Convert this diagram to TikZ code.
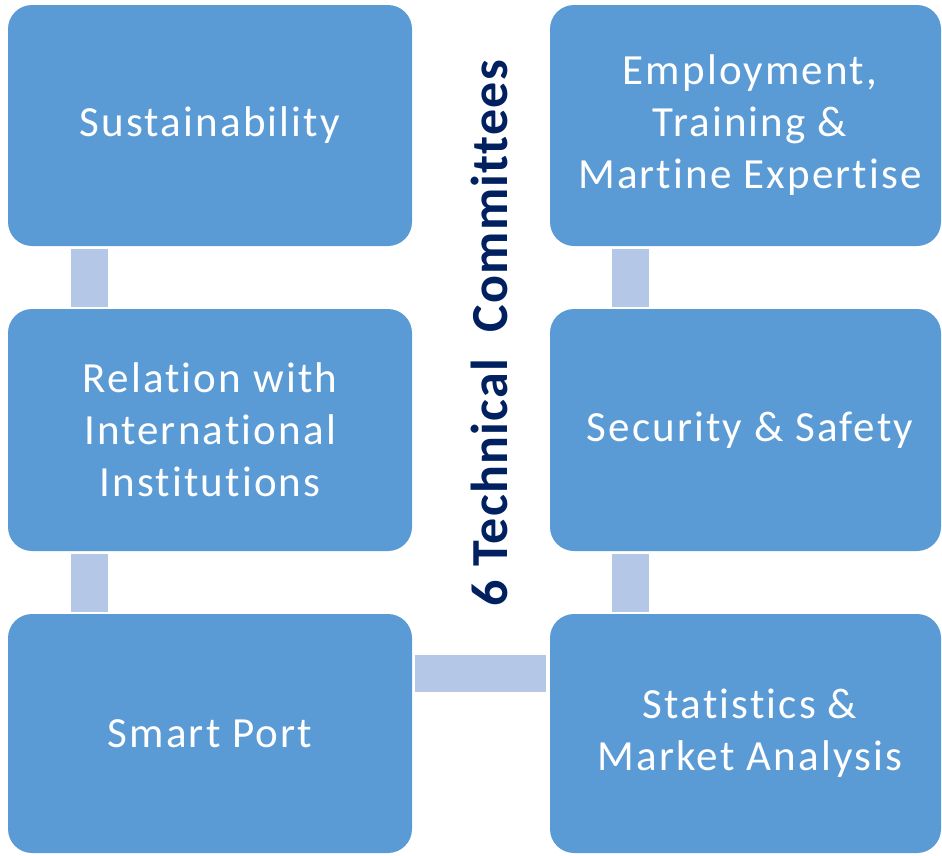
\documentclass[tikz,border=0pt]{standalone}
\usepackage{fontspec}
\setmainfont{Carlito}[LetterSpace=5,Ligatures=NoCommon]
\newfontfamily\titlefont{Carlito}[LetterSpace=2.5,Ligatures=NoCommon]
\definecolor{boxblue}{HTML}{5B9BD5}
\definecolor{linkblue}{HTML}{B4C7E7}
\definecolor{navy}{HTML}{002060}
\begin{document}
\begin{tikzpicture}[x=1pt,y=-1pt,
  lbl/.style={align=center, text=white, font=\fontsize{43}{52}\selectfont, inner sep=0pt},
  link/.style={fill=linkblue, draw=none},
  boxfill/.style={fill=boxblue, rounded corners=24pt}]
\useasboundingbox (0,0) rectangle (942,855);
% boxes
\fill[boxfill] (8,5) rectangle (412,246);
\fill[boxfill] (8,309) rectangle (412,551);
\fill[boxfill] (8,614) rectangle (412,853);
\fill[boxfill] (550,5) rectangle (941,246);
\fill[boxfill] (550,309) rectangle (941,551);
\fill[boxfill] (550,614) rectangle (941,853);
\node[lbl] (a) at (210,125.5) {Sustainability};
\node[lbl] (b) at (210,430) {Relation with\\International\\Institutions};
\node[lbl] (c) at (210,733.5) {Smart Port};
\node[lbl] (d) at (750,125.5) {Employment,\\Training \&\\Martine Expertise};
\node[lbl] (e) at (750,430) {Security \& Safety};
\node[lbl] (f) at (750,733.5) {Statistics \&\\Market Analysis};
% links
\fill[link] (71,249) rectangle (108,307);
\fill[link] (71,554) rectangle (108,612);
\fill[link] (612,249) rectangle (649,307);
\fill[link] (612,554) rectangle (649,612);
\fill[link] (415,655) rectangle (546,692);
% title
\node[rotate=90, text=navy, font=\titlefont\fontsize{52}{60}\selectfont\bfseries, inner sep=0pt] (t) at (489,333) {6 Technical\ \ Committees};
\end{tikzpicture}
\end{document}
